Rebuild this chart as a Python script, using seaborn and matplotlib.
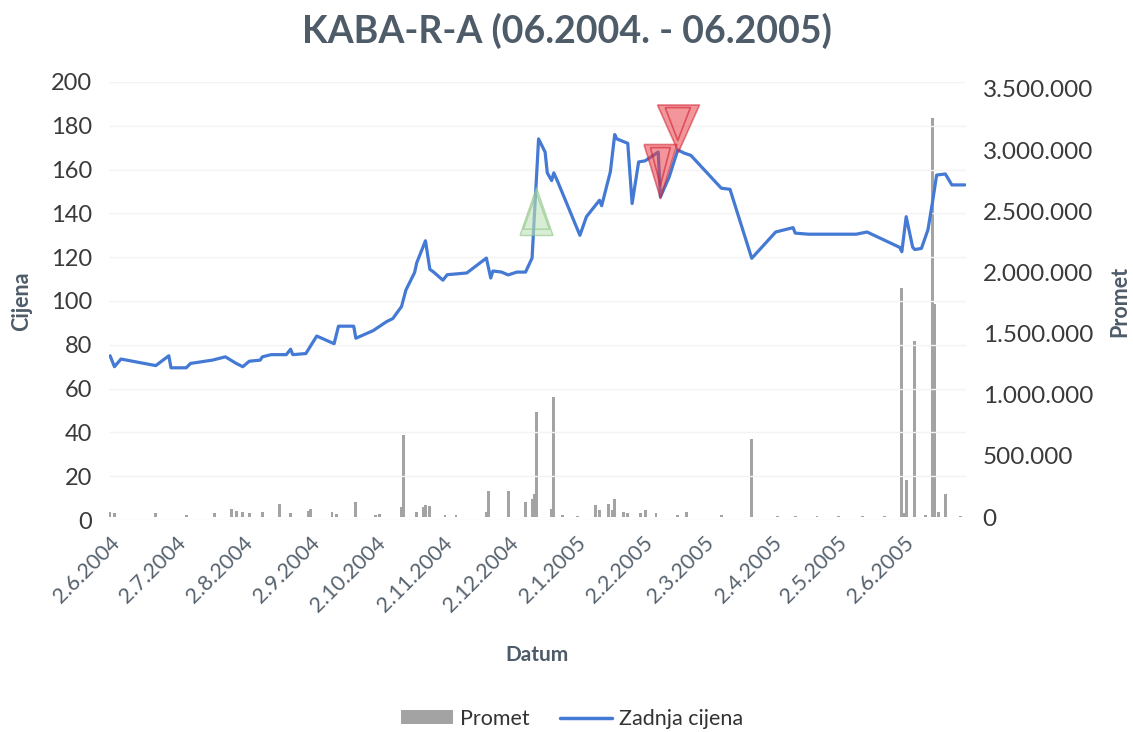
import matplotlib
matplotlib.use("Agg")
import matplotlib.pyplot as plt
from matplotlib.patches import Patch
from matplotlib.lines import Line2D
from matplotlib.ticker import FuncFormatter, MultipleLocator
import seaborn as sns
import pandas as pd
import numpy as np

# ---------------- data ----------------
price_dates = [
    "2004-06-02", "2004-06-04", "2004-06-07", "2004-06-23", "2004-06-29", "2004-06-30",
    "2004-07-07", "2004-07-09", "2004-07-19", "2004-07-25", "2004-07-30", "2004-08-02",
    "2004-08-05", "2004-08-10", "2004-08-11", "2004-08-15", "2004-08-22", "2004-08-24",
    "2004-08-25", "2004-08-31", "2004-09-05", "2004-09-13", "2004-09-15", "2004-09-22",
    "2004-09-23", "2004-10-01", "2004-10-07", "2004-10-10", "2004-10-14", "2004-10-16",
    "2004-10-20", "2004-10-21", "2004-10-25", "2004-10-27", "2004-10-29", "2004-11-02",
    "2004-11-04", "2004-11-13", "2004-11-22", "2004-11-24", "2004-11-25", "2004-11-29",
    "2004-12-02", "2004-12-06", "2004-12-10", "2004-12-13", "2004-12-16", "2004-12-19",
    "2004-12-20", "2004-12-22", "2004-12-23", "2004-12-25", "2005-01-04", "2005-01-07",
    "2005-01-13", "2005-01-14", "2005-01-18", "2005-01-20", "2005-01-21", "2005-01-26",
    "2005-01-28", "2005-01-31", "2005-02-03", "2005-02-09", "2005-02-10", "2005-02-14",
    "2005-02-18", "2005-02-21", "2005-02-24", "2005-03-10", "2005-03-14", "2005-03-24",
    "2005-04-04", "2005-04-12", "2005-04-13", "2005-04-19", "2005-05-11", "2005-05-16",
    "2005-05-31", "2005-06-01", "2005-06-03", "2005-06-06", "2005-06-07", "2005-06-10",
    "2005-06-13", "2005-06-15", "2005-06-17", "2005-06-21", "2005-06-24", "2005-06-30",
]
price_values = [
    75, 70, 73.5, 70.5, 75, 69.5,
    69.5, 71.5, 73, 74.5, 71.5, 70,
    72.5, 73, 74.5, 75.5, 75.5, 78,
    75.5, 76, 84, 80.5, 88.5, 88.5,
    83, 86.5, 90.5, 92, 97.5, 105,
    113, 117.5, 127.5, 114.5, 113, 109.5,
    112, 112.8, 119.6, 110.5, 113.7, 113.2,
    111.9, 113.2, 113.2, 119.6, 174, 168,
    158.5, 155, 158.5, 154, 130, 138.5,
    146, 143.5, 159, 176, 174, 172,
    144.5, 163.5, 164, 168, 147.5, 156.5,
    169, 167.5, 166.5, 151.5, 151, 119.5,
    131.5, 133.5, 131, 130.5, 130.5, 131.5,
    124.5, 122.5, 138.5, 124.5, 123.5, 124,
    132.5, 144.5, 157.5, 158, 153, 153,
]

volume_dates = [
    "2004-06-02", "2004-06-04", "2004-06-23", "2004-07-07", "2004-07-20", "2004-07-28",
    "2004-07-30", "2004-08-02", "2004-08-05", "2004-08-11", "2004-08-19", "2004-08-24",
    "2004-09-01", "2004-09-02", "2004-09-12", "2004-09-14", "2004-09-23", "2004-10-02",
    "2004-10-04", "2004-10-14", "2004-10-15", "2004-10-21", "2004-10-24", "2004-10-25",
    "2004-10-27", "2004-11-03", "2004-11-08", "2004-11-22", "2004-11-23", "2004-12-02",
    "2004-12-10", "2004-12-13", "2004-12-14", "2004-12-15", "2004-12-22", "2004-12-23",
    "2004-12-27", "2005-01-03", "2005-01-11", "2005-01-13", "2005-01-17", "2005-01-19",
    "2005-01-20", "2005-01-24", "2005-01-26", "2005-02-01", "2005-02-03", "2005-02-08",
    "2005-02-18", "2005-02-22", "2005-03-10", "2005-03-24", "2005-04-05", "2005-04-13",
    "2005-04-23", "2005-05-03", "2005-05-14", "2005-05-24", "2005-06-01", "2005-06-02",
    "2005-06-03", "2005-06-07", "2005-06-12", "2005-06-15", "2005-06-16", "2005-06-18",
    "2005-06-21", "2005-06-28",
]
volume_values = [
    40000, 30000, 30000, 20000, 30000, 70000,
    50000, 40000, 30000, 40000, 110000, 30000,
    50000, 70000, 45000, 25000, 125000, 15000,
    25000, 80000, 670000, 40000, 80000, 100000,
    90000, 15000, 15000, 40000, 210000, 210000,
    120000, 150000, 190000, 860000, 70000, 980000,
    20000, 10000, 100000, 60000, 110000, 60000,
    150000, 40000, 30000, 30000, 60000, 30000,
    20000, 40000, 20000, 640000, 10000, 10000,
    8000, 8000, 8000, 10000, 1870000, 30000,
    306000, 1440000, 20000, 3260000, 1740000, 40000,
    185000, 10000,
]

# trading signals (buy = up triangle, sell = down triangle)
buy_dates = ["2004-12-15"]
buy_prices = [141]
sell_dates = ["2005-02-10", "2005-02-18"]
sell_prices = [159.4, 178.8]

tick_dates = ["2004-06-02", "2004-07-02", "2004-08-02", "2004-09-02", "2004-10-02",
              "2004-11-02", "2004-12-02", "2005-01-02", "2005-02-02", "2005-03-02",
              "2005-04-02", "2005-05-02", "2005-06-02"]
tick_labels = ["2.6.2004", "2.7.2004", "2.8.2004", "2.9.2004", "2.10.2004",
               "2.11.2004", "2.12.2004", "2.1.2005", "2.2.2005", "2.3.2005",
               "2.4.2005", "2.5.2005", "2.6.2005"]

title = "KABA-R-A (06.2004. - 06.2005)"

# ---------------- style ----------------
sns.set_theme(style="white")
plt.rcParams["font.family"] = ["Lato", "DejaVu Sans"]

SLATE = "#4E5B68"
TICK = "#3A3A3A"
BLUE = "#4479D4"
GREY = "#A3A3A3"

price_df = pd.DataFrame({"Datum": pd.to_datetime(price_dates), "Cijena": price_values})
vol_df = pd.DataFrame({"Datum": pd.to_datetime(volume_dates), "Promet": volume_values})

fig = plt.figure(figsize=(11.33, 7.32), dpi=100)
ax = fig.add_axes([0.0962, 0.2896, 0.8526 - 0.0962, 0.888 - 0.2896])
ax2 = ax.twinx()

# volume bars on the secondary axis
ax2.bar(vol_df["Datum"], vol_df["Promet"], width=1.3, color=GREY, linewidth=0, zorder=2)

# price line on the primary axis (drawn on top)
ax.set_zorder(ax2.get_zorder() + 1)
ax.patch.set_visible(False)
sns.lineplot(data=price_df, x="Datum", y="Cijena", ax=ax, color=BLUE, linewidth=2.3,
             legend=False, zorder=3)

# signals
def tri(w, h, down):
    s = w / h
    if down:
        return [(-s, 1), (s, 1), (0, -1), (-s, 1)]
    return [(-s, -1), (s, -1), (0, 1), (-s, -1)]

bd = pd.to_datetime(buy_dates)
sd = pd.to_datetime(sell_dates)
px2pt = 0.72
ax.scatter(bd, buy_prices, marker=tri(33, 48, False), s=(48 * px2pt) ** 2,
           facecolor="#BFE3B8", edgecolor="#8CC084", alpha=0.6, linewidth=1, zorder=5)
ax.scatter(bd, buy_prices, marker=tri(26, 36, False), s=(36 * px2pt) ** 2,
           facecolor="none", edgecolor="#8CC084", alpha=0.6, linewidth=1, zorder=5)
sizes_w = [33, 42]
sizes_h = [54, 47]
for d, p, w, h in zip(sd, sell_prices, sizes_w, sizes_h):
    ax.scatter([d], [p], marker=tri(w, h, True), s=(h * px2pt) ** 2,
               facecolor="#E8404A", edgecolor="#D0202E", alpha=0.55, linewidth=1.2, zorder=6)
    ax.scatter([d], [p + 2], marker=tri(w * 0.6, h * 0.7, True), s=(h * 0.7 * px2pt) ** 2,
               facecolor="none", edgecolor="#D0202E", alpha=0.6, linewidth=1.2, zorder=6)

# axes limits & ticks
x0 = pd.Timestamp("2004-06-02") - pd.Timedelta(hours=12)
x1 = pd.Timestamp("2005-06-30") + pd.Timedelta(hours=12)
ax.set_xlim(x0, x1)
ax.set_ylim(0, 200)
ax.yaxis.set_major_locator(MultipleLocator(20))
ax2.set_ylim(-24000, 3556000)
ax2.set_yticks(np.arange(0, 3500001, 500000))
ax2.yaxis.set_major_formatter(FuncFormatter(lambda v, p: f"{int(v):,}".replace(",", ".")))

ax.set_xticks(pd.to_datetime(tick_dates))
ax.set_xticklabels(tick_labels, rotation=45, ha="right", rotation_mode="anchor",
                   fontsize=15.5, color="#56626E")
ax.tick_params(axis="x", length=0, pad=9)
ax.tick_params(axis="y", length=0, pad=12, labelsize=17, labelcolor=TICK)
ax2.tick_params(axis="y", length=0, pad=12, labelsize=17.5, labelcolor=TICK)

ax.grid(axis="y", color="#F3F3F3", linewidth=1)
ax.set_axisbelow(True)
for a in (ax, ax2):
    for sp in a.spines.values():
        sp.set_visible(False)

ax.set_xlabel("Datum", fontsize=15, fontweight="bold", color=SLATE, labelpad=21)
ax.set_ylabel("Cijena", fontsize=15.5, fontweight="bold", color=SLATE, labelpad=14)
ax2.set_ylabel("Promet", fontsize=15.5, fontweight="bold", color=SLATE, labelpad=12)

fig.suptitle(title, fontsize=27, fontweight="bold", color=SLATE, y=0.982)

handles = [Patch(facecolor=GREY, edgecolor="none"),
           Line2D([0], [0], color=BLUE, linewidth=2.5)]
fig.legend(handles, ["Promet", "Zadnja cijena"], loc="lower center",
           bbox_to_anchor=(0.505, -0.022), ncol=2, frameon=False, fontsize=15.5,
           handlelength=2.4, handleheight=0.6, columnspacing=1.4, handletextpad=0.35,
           labelcolor="#333333")

fig.savefig("out.png", dpi=100)
